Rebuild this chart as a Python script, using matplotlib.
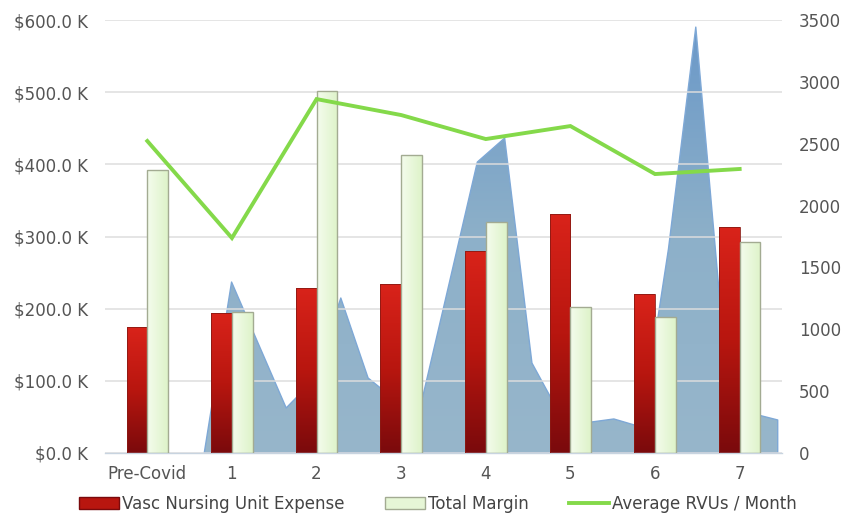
import numpy as np
import matplotlib.pyplot as plt
from matplotlib.colors import LinearSegmentedColormap
from matplotlib.patches import Patch
from matplotlib.lines import Line2D
from matplotlib.ticker import FuncFormatter, MultipleLocator

plt.rcParams['font.family'] = ['DejaVu Sans']

categories = ["Pre-Covid", "1", "2", "3", "4", "5", "6", "7"]
unit_expense = [174500, 194000, 229000, 234000, 280000, 331000, 220000, 313000]
total_margin = [392000, 195000, 501000, 413000, 320000, 202000, 188000, 292000]
avg_rvus = [2522, 1738, 2861, 2732, 2538, 2643, 2255, 2296]

# weekly RVU volume, drawn as a filled area behind the bars
weekly_rvus = [0, 1382, 873, 364, 590, 1253, 606, 428, 453, 1400, 2352,
               2546, 727, 323, 245, 275, 210, 1650, 3443, 938, 323, 267]
week_start = 0.673   # first week, in category units
week_step = 0.3227   # one week, in category units

text_color = "#555555"
font_size = 12

fig = plt.figure(figsize=(8.42, 5.14), dpi=100)
ax = fig.add_axes([0.1247, 0.1187, 0.804, 0.8423])
ax_area = ax.twinx()
ax_line = ax.twinx()

# stacking: area at the bottom, bars in the middle, line on top
ax_area.set_zorder(1)
ax.set_zorder(2)
ax_line.set_zorder(3)
ax.patch.set_visible(False)
ax_line.patch.set_visible(False)

x = np.arange(len(categories))
bar_width = 0.245
xlim = (-0.5, len(categories) - 0.5)
ylim_left = (0, 600000)
ylim_right = (0, 3500)

# area
wx = week_start + week_step * np.arange(len(weekly_rvus))
area = ax_area.fill_between(wx, 0, weekly_rvus, facecolor="none",
                            edgecolor="#7ea8d6", linewidth=1.0)
area_cmap = LinearSegmentedColormap.from_list("area", ["#97b6cb", "#8db0c9", "#6a98c8"])
grad = np.linspace(0, 1, 256).reshape(-1, 1)
img = ax_area.imshow(grad, extent=[xlim[0], xlim[1], 0, 3500], origin="lower",
                     aspect="auto", cmap=area_cmap, zorder=0)
img.set_clip_path(area.get_paths()[0], transform=ax_area.transData)

# bars with gradient fills
red_cmap = LinearSegmentedColormap.from_list("red", ["#7a0a0c", "#b8160f", "#d9231a"])
green_cmap = LinearSegmentedColormap.from_list("green", ["#f4fced", "#def3c9"])

red_bars = ax.bar(x - bar_width / 2, unit_expense, width=bar_width,
                  color="none", edgecolor="#8a1a14", linewidth=0.6, zorder=3)
green_bars = ax.bar(x + bar_width / 2, total_margin, width=bar_width,
                    color="none", edgecolor="#a3ab92", linewidth=1.0, zorder=3)

vgrad = np.linspace(0, 1, 256).reshape(-1, 1)
hgrad = np.linspace(0, 1, 64).reshape(1, -1)
for rect in red_bars:
    x0, w, h = rect.get_x(), rect.get_width(), rect.get_height()
    im = ax.imshow(vgrad, extent=[x0, x0 + w, 0, h], origin="lower",
                   aspect="auto", cmap=red_cmap, zorder=2.5)
    im.set_clip_path(rect)
for rect in green_bars:
    x0, w, h = rect.get_x(), rect.get_width(), rect.get_height()
    im = ax.imshow(hgrad, extent=[x0, x0 + w, 0, h], origin="lower",
                   aspect="auto", cmap=green_cmap, zorder=2.5)
    im.set_clip_path(rect)

# line
ax_line.plot(x, avg_rvus, color="#84d94a", linewidth=2.8,
             solid_joinstyle="miter", zorder=5)

# axes
ax.set_xlim(*xlim)
ax.set_ylim(*ylim_left)
ax_area.set_xlim(*xlim)
ax_area.set_ylim(*ylim_right)
ax_line.set_ylim(*ylim_right)

ax.yaxis.set_major_locator(MultipleLocator(100000))
ax.yaxis.set_major_formatter(FuncFormatter(lambda v, p: "${:.1f} K".format(v / 1000)))
ax.set_xticks(x, categories)
ax.grid(axis="y", color="#dddddd", linewidth=1.2, alpha=0.9, zorder=1)
ax.set_axisbelow(True)

ax_line.yaxis.set_major_locator(MultipleLocator(500))
ax_area.set_yticks([])

for a in (ax, ax_area, ax_line):
    for s in a.spines.values():
        s.set_visible(False)
ax.spines["bottom"].set_visible(True)
ax.spines["bottom"].set_color("#c8d4e0")
ax.spines["bottom"].set_linewidth(1.0)

ax.tick_params(axis="both", length=0, labelsize=font_size, colors=text_color)
ax.tick_params(axis="y", pad=12)
ax.tick_params(axis="x", pad=9)
ax_line.tick_params(axis="y", length=0, labelsize=font_size, colors=text_color, pad=12)

handles = [
    Patch(facecolor="#b8160f", edgecolor="#7a0a0c", label="Vasc Nursing Unit Expense"),
    Patch(facecolor="#e6f6d6", edgecolor="#a3ab92", label="Total Margin"),
    Line2D([0], [0], color="#84d94a", linewidth=2.8, label="Average RVUs / Month"),
]
fig.legend(handles=handles, loc="center", bbox_to_anchor=(0.52, 0.02),
           ncol=3, frameon=False, fontsize=font_size, labelcolor="#444444",
           handlelength=2.4, handleheight=0.7, handletextpad=0.2, columnspacing=2.4)

fig.savefig("out.png", dpi=100)
